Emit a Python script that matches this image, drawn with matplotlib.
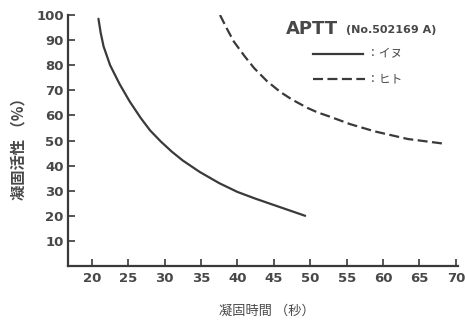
import matplotlib
matplotlib.use('Agg')
import matplotlib.pyplot as plt

# ==================================================
# data
# ==================================================

dog_time = [20.9, 21.2, 21.6, 22.5, 23.8, 25.2, 26.7, 28.0, 29.5, 31.0, 32.5,
            34.8, 37.5, 40.0, 42.5, 45.0, 47.0, 49.3]
dog_activity = [98.5, 93.0, 87.5, 80.0, 72.5, 65.5, 59.0, 54.0, 49.5, 45.5, 42.0,
                37.5, 33.0, 29.5, 26.8, 24.3, 22.3, 20.0]

human_time = [37.6, 38.5, 39.5, 41.0, 42.3, 44.0, 45.9, 47.5, 49.6, 51.0,
              52.7, 55.5, 58.9, 63.4, 68.2]
human_activity = [100.0, 94.8, 89.4, 83.5, 78.8, 73.8, 69.3, 66.3, 63.0, 61.2,
                  59.5, 56.5, 53.6, 50.6, 48.8]

x_ticks = [20, 25, 30, 35, 40, 45, 50, 55, 60, 65, 70]
y_ticks = [10, 20, 30, 40, 50, 60, 70, 80, 90, 100]

ink = '#3a3a3a'
txt = '#484848'
num_font = ['DejaVu Sans']
jp_font = ['Noto Sans CJK JP', 'DejaVu Sans']

# ==================================================
# figure
# ==================================================

fig = plt.figure(figsize=(4.65, 3.26), dpi=100)
ax = fig.add_axes([0.146, 0.184, 0.839, 0.770])

ax.plot(dog_time, dog_activity, color=ink, lw=1.6, solid_capstyle='round')
ax.plot(human_time, human_activity, color=ink, lw=1.6, dashes=(4.5, 2.0))

ax.set_xlim(16.7, 70.3)
ax.set_ylim(0, 100)

ax.spines['top'].set_visible(False)
ax.spines['right'].set_visible(False)
for s in ('left', 'bottom'):
    ax.spines[s].set_linewidth(1.6)
    ax.spines[s].set_color(ink)

ax.set_xticks(x_ticks)
ax.set_yticks(y_ticks)
ax.tick_params(direction='in', length=5, width=1.2, color=ink, labelcolor=txt)
ax.tick_params(axis='y', pad=3)
ax.tick_params(axis='x', pad=4)
ax.set_xticklabels([str(v) for v in x_ticks], family=num_font, fontsize=9.5,
                   fontweight='bold')
ax.set_yticklabels([str(v) for v in y_ticks], family=num_font, fontsize=9.5,
                   fontweight='bold')

# axis labels
fig.text(0.040, 0.555, '凝固活性 （%）', rotation=90, ha='center', va='center',
         family=jp_font, fontsize=11, fontweight='bold', color=txt)
fig.text(0.573, 0.046, '凝固時間 （秒）', ha='center', va='center',
         family=jp_font, fontsize=9.5, color=txt)

# legend drawn by hand
fig.text(0.615, 0.911, 'APTT', ha='left', va='center', family=num_font,
         fontsize=13, fontweight='bold', color=txt)
fig.text(0.744, 0.908, '(No.502169 A)', ha='left', va='center', family=num_font,
         fontsize=8, fontweight='bold', color=txt)

fig.lines.append(plt.Line2D([0.673, 0.781], [0.834, 0.834], transform=fig.transFigure,
                            color=ink, lw=1.6))
fig.lines.append(plt.Line2D([0.673, 0.785], [0.758, 0.758], transform=fig.transFigure,
                            color=ink, lw=1.6, dashes=(4.5, 2.0)))
fig.text(0.789, 0.834, '：イヌ', ha='left', va='center', family=jp_font,
         fontsize=8.5, color=txt)
fig.text(0.789, 0.758, '：ヒト', ha='left', va='center', family=jp_font,
         fontsize=8.5, color=txt)

plt.savefig('out.png', dpi=100)
